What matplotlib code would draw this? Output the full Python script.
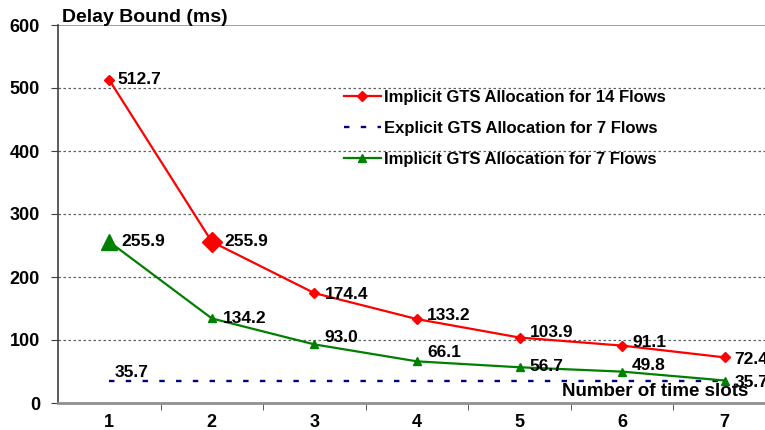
import numpy as np
import matplotlib.pyplot as plt

plt.rcParams['font.family'] = ['Liberation Sans', 'DejaVu Sans']

slots = [1, 2, 3, 4, 5, 6, 7]
implicit_14 = [512.7, 255.9, 174.4, 133.2, 103.9, 91.1, 72.4]
explicit_7 = [35.7, 35.7, 35.7, 35.7, 35.7, 35.7, 35.7]
implicit_7 = [255.9, 134.2, 93.0, 66.1, 56.7, 49.8, 35.7]

# label offsets in pixels (dx, dy)
off_14 = [(8, 0), (13, 0), (10, -1), (10, 4), (10, 5), (10, 3), (10, -2)]
off_7 = [(12, 0), (11, 0), (10, 7), (10, 9), (10, 1), (10, 6), (10, -2)]

fig = plt.figure(figsize=(7.65, 4.3), dpi=100)
ax = fig.add_axes([58 / 765, 27 / 430, 718 / 765, 378 / 430])

red, green, navy = '#ff0000', '#008000', '#000080'

ax.plot(slots, implicit_14, color=red, lw=1.6, marker='D', ms=5,
        label='Implicit GTS Allocation for 14 Flows')
ax.plot(slots, explicit_7, color=navy, lw=1.7, ls=(0, (2.3, 4.8)),
        label='Explicit GTS Allocation for 7 Flows')
ax.plot(slots, implicit_7, color=green, lw=1.6, marker='^', ms=6,
        label='Implicit GTS Allocation for 7 Flows')
# highlighted points
ax.plot(slots[1], implicit_14[1], marker='D', ms=10, color=red, ls='none')
ax.plot(slots[0], implicit_7[0], marker='^', ms=12, color=green, ls='none')

for x, y, o in zip(slots, implicit_14, off_14):
    ax.annotate(f'{y:.1f}', (x, y), xytext=o, textcoords='offset pixels',
                va='center', ha='left', fontsize=12.5, fontweight='bold')
for x, y, o in zip(slots, implicit_7, off_7):
    ax.annotate(f'{y:.1f}', (x, y), xytext=o, textcoords='offset pixels',
                va='center', ha='left', fontsize=12.5, fontweight='bold')
ax.annotate(f'{explicit_7[0]:.1f}', (slots[0], explicit_7[0]), xytext=(5, 8),
            textcoords='offset pixels', va='center', ha='left',
            fontsize=12.5, fontweight='bold')

ax.set_xlim(0.5, 7.5)
ax.set_ylim(0, 600)
ax.set_yticks(np.arange(0, 601, 100))
ax.set_xticks(slots)
ax.set_xticks(np.arange(1.5, 7.5, 1), minor=True)
ax.tick_params(axis='x', which='major', length=0, pad=8)
ax.tick_params(axis='x', which='minor', length=5, color='#404040')
ax.tick_params(axis='y', length=5, color='#404040', pad=8)
for lab in ax.get_xticklabels() + ax.get_yticklabels():
    lab.set_fontweight('bold')
    lab.set_fontsize(13)

for y in range(100, 600, 100):
    ax.axhline(y, color='#606060', lw=0.9, ls=(0, (2, 2)), zorder=0)
ax.axhline(600, color='#909090', lw=1.2, zorder=0)

ax.spines['top'].set_visible(False)
ax.spines['right'].set_visible(False)
ax.spines['left'].set_color('#404040')
ax.spines['left'].set_linewidth(1.2)
ax.spines['bottom'].set_color('#909090')
ax.spines['bottom'].set_linewidth(2)

fig.text(62 / 765, 1 - 18 / 430, 'Delay Bound (ms)', fontsize=14,
         fontweight='bold', va='center', ha='left')
fig.text(748 / 765, 1 - 391 / 430, 'Number of time slots', fontsize=13.5,
         fontweight='bold', va='center', ha='right')

leg = ax.legend(loc='upper left', bbox_to_anchor=(271 / 718, 1 - 50 / 378),
                frameon=False, fontsize=12, handlelength=2.2,
                labelspacing=0.95, handletextpad=0.2)
for t in leg.get_texts():
    t.set_fontweight('bold')

fig.savefig('out.png', dpi=100)
